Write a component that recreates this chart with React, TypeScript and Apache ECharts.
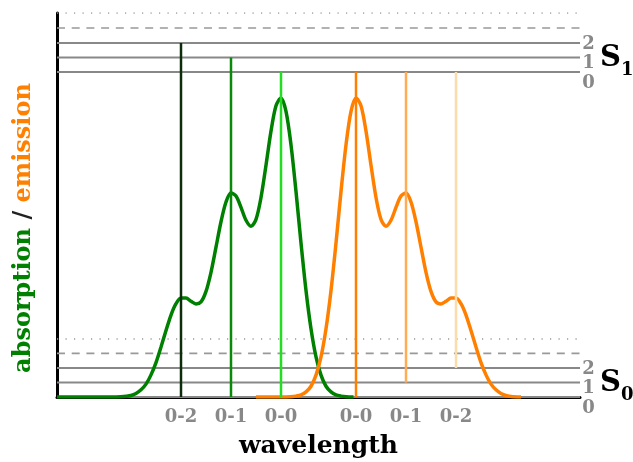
import React, { useEffect, useRef } from 'react';
import * as echarts from 'echarts';

// Absorption (green) and emission (orange) spectra, relative intensity
const absorptionX = [-0.48, 0.5, 0.7, 0.8, 0.9, 1.0, 1.1, 1.2, 1.3, 1.4, 1.5, 1.6, 1.7, 1.8, 1.9, 2.0, 2.1, 2.2, 2.3, 2.4, 2.5, 2.6, 2.7, 2.8, 2.9, 3.0, 3.1, 3.2, 3.3, 3.4, 3.5, 3.6, 3.7, 3.8, 3.9, 4.0, 4.1, 4.2, 4.3, 4.4, 4.5, 4.6, 4.7, 4.8, 4.9, 5.0, 5.1, 5.2, 5.3, 5.45];
const absorptionY = [0, 0, 0.0003, 0.0009, 0.0023, 0.005, 0.012, 0.024, 0.043, 0.074, 0.115, 0.167, 0.222, 0.274, 0.312, 0.331, 0.331, 0.320, 0.311, 0.318, 0.353, 0.417, 0.501, 0.586, 0.652, 0.682, 0.672, 0.634, 0.591, 0.571, 0.594, 0.667, 0.775, 0.889, 0.974, 1.0, 0.955, 0.843, 0.687, 0.515, 0.356, 0.228, 0.134, 0.073, 0.036, 0.017, 0.007, 0.003, 0.001, 0];

const emissionX = [3.5, 4.0, 4.2, 4.3, 4.4, 4.5, 4.6, 4.7, 4.8, 4.9, 5.0, 5.1, 5.2, 5.3, 5.4, 5.5, 5.6, 5.7, 5.8, 5.9, 6.0, 6.1, 6.2, 6.3, 6.4, 6.5, 6.6, 6.7, 6.8, 6.9, 7.0, 7.1, 7.2, 7.3, 7.4, 7.5, 7.6, 7.7, 7.8, 7.9, 8.0, 8.1, 8.2, 8.3, 8.4, 8.5, 8.6, 8.8];
const emissionY = [0, 0, 0.001, 0.003, 0.007, 0.017, 0.036, 0.073, 0.134, 0.228, 0.356, 0.515, 0.687, 0.843, 0.955, 1.0, 0.974, 0.889, 0.775, 0.667, 0.594, 0.571, 0.591, 0.634, 0.672, 0.682, 0.652, 0.586, 0.501, 0.417, 0.353, 0.318, 0.311, 0.320, 0.331, 0.331, 0.312, 0.274, 0.222, 0.167, 0.115, 0.074, 0.043, 0.024, 0.012, 0.005, 0.002, 0];

// Vibrational levels (y values)
const s0Levels = [0, 0.0485, 0.097];
const s0Dashed = 0.146;
const s0Dotted = 0.194;
const s1Levels = [1.087, 1.1355, 1.184];
const s1Dashed = 1.234;
const s1Dotted = 1.284;
const levelLabels = ['0', '1', '2'];
const stateNames = ['S', 'S'];
const stateSubs = ['0', '1'];

// Transitions
const absorptionLineX = [2, 3, 4];
const absorptionLineUpper = [2, 1, 0]; // S1 level reached from S0 level 0
const emissionLineX = [5.5, 6.5, 7.5];
const emissionLineLower = [0, 1, 2]; // S0 level reached from S1 level 0
const tickX = [2, 3, 4, 5.5, 6.5, 7.5];
const tickLabels = ['0-2', '0-1', '0-0', '0-0', '0-1', '0-2'];

const X_MIN = -0.48;
const X_MAX = 9.98;

const absColors = ['#0c2d0c', '#0a8a0a', '#22dd22'];
const emColors = ['#ff8000', '#ffac55', '#fcdcaa'];
const FONT = 'DejaVu Serif';
const GRAY = '#888888';

export default function App() {
  const ref = useRef<HTMLDivElement>(null);
  useEffect(() => {
    if (!ref.current) return;
    const chart = echarts.init(ref.current, undefined, { renderer: 'svg' });

    const hLine = (y: number, type: any, width: number, color: string) => ({
      type: 'line',
      data: [[X_MIN, y], [X_MAX, y]],
      symbol: 'none',
      silent: true,
      z: 1,
      lineStyle: { color, width, type },
    });

    const series: any[] = [];
    s0Levels.forEach((y) => series.push(hLine(y, 'solid', 2, GRAY)));
    s1Levels.forEach((y) => series.push(hLine(y, 'solid', 2, GRAY)));
    series.push(hLine(s0Dashed, [8, 6.7], 1.6, '#999999'));
    series.push(hLine(s1Dashed, [8, 6.7], 1.6, '#999999'));
    series.push(hLine(s0Dotted, [1.2, 7.3], 1.5, '#999999'));
    series.push(hLine(s1Dotted, [1.2, 7.3], 1.5, '#999999'));

    series.push({
      type: 'line',
      data: absorptionX.map((x, i) => [x, absorptionY[i]]),
      smooth: 0.3,
      symbol: 'none',
      z: 3,
      lineStyle: { color: '#008000', width: 3.5 },
    });
    series.push({
      type: 'line',
      data: emissionX.map((x, i) => [x, emissionY[i]]),
      smooth: 0.3,
      symbol: 'none',
      z: 3,
      lineStyle: { color: '#ff8000', width: 3.5 },
    });

    absorptionLineX.forEach((x, i) => {
      series.push({
        type: 'line',
        data: [[x, s0Levels[0]], [x, s1Levels[absorptionLineUpper[i]]]],
        symbol: 'none',
        z: 4,
        lineStyle: { color: absColors[i], width: 2.5 },
      });
    });
    emissionLineX.forEach((x, i) => {
      series.push({
        type: 'line',
        data: [[x, s1Levels[0]], [x, s0Levels[emissionLineLower[i]]]],
        symbol: 'none',
        z: 4,
        lineStyle: { color: emColors[i], width: 2.5 },
      });
    });

    const option: any = {
      animation: false,
      grid: { left: 57, right: 53, top: 13, bottom: 65, containLabel: false },
      xAxis: {
        type: 'value',
        min: X_MIN,
        max: X_MAX,
        axisLine: { show: true, onZero: false, lineStyle: { color: '#000', width: 3 } },
        axisTick: { show: false },
        splitLine: { show: false },
        axisLabel: {
          customValues: tickX,
          formatter: (v: number) => {
            const i = tickX.findIndex((t) => Math.abs(t - v) < 1e-6);
            return i >= 0 ? tickLabels[i] : '';
          },
          color: GRAY,
          fontFamily: FONT,
          fontWeight: 'bold',
          fontSize: 18,
          margin: 9,
        },
        name: 'wavelength',
        nameLocation: 'middle',
        nameGap: 35,
        nameTextStyle: { color: '#000', fontFamily: FONT, fontWeight: 'bold', fontSize: 25 },
      },
      yAxis: {
        type: 'value',
        min: 0,
        max: s1Dotted,
        axisLine: { show: true, onZero: false, lineStyle: { color: '#000', width: 3 } },
        axisTick: { show: false },
        axisLabel: { show: false },
        splitLine: { show: false },
        name: '{g|absorption\u00a0}{k|/}{o|\u00a0emission}',
        nameLocation: 'middle',
        nameGap: 24,
        nameTextStyle: {
          padding: [0, 46, 0, 0],
          rich: {
            g: { color: '#008000', fontFamily: FONT, fontWeight: 'bold', fontSize: 24 },
            k: { color: '#222', fontFamily: FONT, fontWeight: 'bold', fontSize: 24 },
            o: { color: '#ff8000', fontFamily: FONT, fontWeight: 'bold', fontSize: 24 },
          },
        },
      },
      series,
    };
    chart.setOption(option);

    const toPx = (x: number, y: number) => chart.convertToPixel({ gridIndex: 0 }, [x, y]) as number[];
    const graphic: any[] = [];
    [s0Levels, s1Levels].forEach((levels, k) => {
      const end = toPx(X_MAX, levels[1]);
      graphic.push({
        type: 'text',
        x: end[0] + 8.5,
        y: end[1] + 4.5,
        silent: true,
        style: {
          text: [levelLabels[2], levelLabels[1], levelLabels[0]].join('\n'),
          fill: GRAY,
          font: `bold 18px "${FONT}"`,
          lineHeight: 19.5,
          align: 'center',
          verticalAlign: 'middle',
        },
      });
      graphic.push({
        type: 'text',
        x: end[0] + 20,
        y: end[1] - 1,
        silent: true,
        style: {
          text: stateNames[k],
          fill: '#000',
          font: `bold 29px "${FONT}"`,
          align: 'left',
          verticalAlign: 'middle',
        },
      });
      graphic.push({
        type: 'text',
        x: end[0] + 41,
        y: end[1] + 11.5,
        silent: true,
        style: {
          text: stateSubs[k],
          fill: '#000',
          font: `bold 18px "${FONT}"`,
          align: 'left',
          verticalAlign: 'middle',
        },
      });
    });
    chart.setOption({ graphic });

    return () => chart.dispose();
  }, []);
  return <div ref={ref} style={{ position: 'fixed', left: 0, top: 0, width: 633, height: 462 }} />;
}
